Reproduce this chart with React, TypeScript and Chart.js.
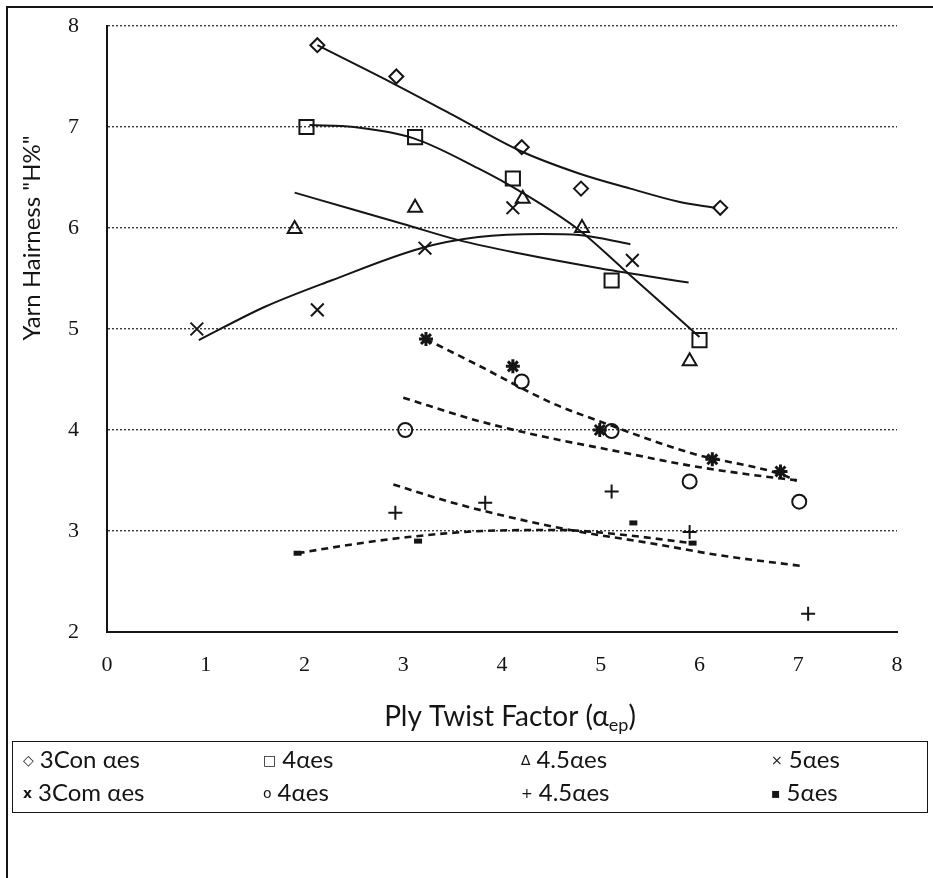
import React, { useEffect, useRef } from "react";
import { Chart, registerables } from "chart.js";

Chart.register(...registerables);

// ---------- axis ----------
const xMin = 0;
const xMax = 8;
const yMin = 2;
const yMax = 8;

// ---------- measured points ----------
const con3X = [2.13, 2.93, 4.2, 4.8, 6.21];
const con3Y = [7.81, 7.5, 6.8, 6.39, 6.2];
const sq4X = [2.02, 3.12, 4.11, 5.11, 6.0];
const sq4Y = [7.0, 6.9, 6.49, 5.48, 4.89];
const tri45X = [1.9, 3.12, 4.21, 4.81, 5.9];
const tri45Y = [5.99, 6.2, 6.29, 6.0, 4.68];
const x5X = [0.91, 2.13, 3.22, 4.11, 5.32];
const x5Y = [5.0, 5.19, 5.8, 6.2, 5.68];
const com3X = [3.23, 4.11, 4.99, 6.13, 6.82];
const com3Y = [4.9, 4.63, 4.0, 3.71, 3.59];
const circ4X = [3.02, 4.2, 5.11, 5.9, 7.01];
const circ4Y = [4.0, 4.48, 3.99, 3.49, 3.29];
const plus45X = [2.92, 3.83, 5.11, 5.9, 7.1];
const plus45Y = [3.18, 3.28, 3.39, 2.99, 2.18];
const dash5X = [1.93, 3.15, 5.33, 5.93];
const dash5Y = [2.78, 2.9, 3.08, 2.88];

// ---------- trend lines ----------
const con3TrendX = [2.13, 2.9, 3.5, 4.17, 4.78, 5.3, 5.79, 6.16];
const con3TrendY = [7.81, 7.43, 7.12, 6.77, 6.54, 6.39, 6.26, 6.2];
const sq4TrendX = [2.05, 2.5, 3.1, 3.76, 4.17, 4.78, 5.21, 6.0];
const sq4TrendY = [7.02, 7.0, 6.89, 6.59, 6.37, 5.98, 5.61, 4.92];
const tri45TrendX = [1.9, 2.5, 3.0, 3.56, 4.17, 5.0, 5.89];
const tri45TrendY = [6.35, 6.18, 6.04, 5.88, 5.75, 5.6, 5.46];
const x5TrendX = [0.93, 1.6, 2.27, 3.18, 3.76, 4.4, 4.78, 5.3];
const x5TrendY = [4.89, 5.22, 5.48, 5.8, 5.91, 5.94, 5.93, 5.84];
const com3TrendX = [3.23, 3.76, 4.5, 4.95, 5.92, 6.8, 6.98];
const com3TrendY = [4.9, 4.64, 4.27, 4.1, 3.77, 3.57, 3.5];
const circ4TrendX = [3.0, 3.76, 4.44, 5.11, 5.89, 6.5, 7.0];
const circ4TrendY = [4.32, 4.09, 3.93, 3.8, 3.65, 3.56, 3.5];
const plus45TrendX = [2.9, 3.5, 4.2, 4.8, 5.5, 6.2, 7.06];
const plus45TrendY = [3.46, 3.28, 3.11, 2.99, 2.88, 2.76, 2.65];
const dash5TrendX = [1.93, 2.5, 3.05, 3.8, 4.57, 5.15, 5.92];
const dash5TrendY = [2.78, 2.87, 2.94, 3.0, 3.01, 2.97, 2.88];

// ---------- legend ----------
const legendRow1 = ["3Con αes", "4αes", "4.5αes", "5αes"];
const legendRow2 = ["3Com αes", "4αes", "4.5αes", "5αes"];
const legendSym1 = ["◇", "□", "∆", "×"];
const legendSym2 = ["x", "o", "+", "▪"];

const pts = (xs: number[], ys: number[]) => xs.map((x, i) => ({ x, y: ys[i] }));

const INK = "#151515";

function markerSet(xs: number[], ys: number[], style: string, radius: number, bw: number) {
  return {
    data: pts(xs, ys),
    showLine: false,
    pointStyle: style,
    pointRadius: radius,
    pointBorderWidth: bw,
    pointBorderColor: INK,
    pointBackgroundColor: style === "line" ? INK : "rgba(0,0,0,0)",
    borderColor: INK,
    order: 0,
  };
}

function trendSet(xs: number[], ys: number[], dashed: boolean) {
  return {
    data: pts(xs, ys),
    showLine: true,
    pointRadius: 0,
    borderColor: INK,
    borderWidth: dashed ? 2.6 : 2,
    borderDash: dashed ? [7, 5] : [],
    tension: 0.4,
    cubicInterpolationMode: "monotone",
    fill: false,
    order: 1,
  };
}

const titlePlugin = {
  id: "axisTitles",
  afterDraw(chart: any) {
    const ctx = chart.ctx;
    ctx.save();
    ctx.fillStyle = INK;
    // y title
    ctx.translate(32, 238);
    ctx.rotate(-Math.PI / 2);
    ctx.font = "24px Lato";
    ctx.textAlign = "center";
    ctx.textBaseline = "middle";
    ctx.fillText('Yarn Hairness "H%"', 0, 0);
    ctx.restore();

    // x title with subscript
    ctx.save();
    ctx.fillStyle = INK;
    const main = "Ply Twist Factor (α";
    const sub = "ep";
    const close = ")";
    ctx.font = "28px Lato";
    const w1 = ctx.measureText(main).width;
    const w3 = ctx.measureText(close).width;
    ctx.font = "18px Lato";
    const w2 = ctx.measureText(sub).width;
    const total = w1 + w2 + w3;
    let x = 510 - total / 2;
    const y = 717;
    ctx.textBaseline = "middle";
    ctx.textAlign = "left";
    ctx.font = "28px Lato";
    ctx.fillText(main, x, y);
    x += w1;
    ctx.font = "18px Lato";
    ctx.fillText(sub, x, y + 8);
    x += w2;
    ctx.font = "28px Lato";
    ctx.fillText(close, x, y);
    ctx.restore();
  },
};

function ChartCanvas() {
  const ref = useRef<HTMLCanvasElement | null>(null);
  useEffect(() => {
    if (!ref.current) return;
    const chart = new Chart(ref.current, {
      type: "scatter",
      data: {
        datasets: [
          markerSet(con3X, con3Y, "rectRot", 7, 2),
          markerSet(sq4X, sq4Y, "rect", 10, 2),
          markerSet(tri45X, tri45Y, "triangle", 8, 2),
          markerSet(x5X, x5Y, "crossRot", 9, 2),
          markerSet(com3X, com3Y, "star", 7, 3),
          markerSet(circ4X, circ4Y, "circle", 7, 2),
          markerSet(plus45X, plus45Y, "cross", 7, 2),
          markerSet(dash5X, dash5Y, "line", 4, 5),
          trendSet(con3TrendX, con3TrendY, false),
          trendSet(sq4TrendX, sq4TrendY, false),
          trendSet(tri45TrendX, tri45TrendY, false),
          trendSet(x5TrendX, x5TrendY, false),
          trendSet(com3TrendX, com3TrendY, true),
          trendSet(circ4TrendX, circ4TrendY, true),
          trendSet(plus45TrendX, plus45TrendY, true),
          trendSet(dash5TrendX, dash5TrendY, true),
        ] as any,
      },
      options: {
        animation: false,
        responsive: false,
        maintainAspectRatio: false,
        layout: { padding: { left: 0, right: 36, top: 26, bottom: 0 } },
        plugins: { legend: { display: false }, tooltip: { enabled: false } },
        scales: {
          x: {
            type: "linear",
            min: xMin,
            max: xMax,
            afterFit: (s: any) => {
              s.height = 113;
              s.paddingLeft = 0;
              s.paddingRight = 0;
            },
            ticks: {
              stepSize: 1,
              padding: 20,
              color: INK,
              font: { family: "Liberation Serif", size: 22 },
            },
            grid: { display: false, drawTicks: false },
            border: { display: true, color: INK, width: 2 },
          },
          y: {
            type: "linear",
            min: yMin,
            max: yMax,
            afterFit: (s: any) => {
              s.width = 107;
              s.paddingTop = 0;
              s.paddingBottom = 0;
            },
            ticks: {
              stepSize: 1,
              padding: 28,
              color: INK,
              font: { family: "Liberation Serif", size: 22 },
            },
            grid: { display: true, drawTicks: false, color: "#3a3a3a", lineWidth: 1.4 },
            border: { display: true, color: INK, width: 2, dash: [2, 2] },
          },
        },
      } as any,
      plugins: [titlePlugin],
    });
    return () => chart.destroy();
  }, []);
  return (
    <canvas
      ref={ref}
      width={933}
      height={745}
      style={{ position: "absolute", left: 0, top: 0, width: 933, height: 745 }}
    />
  );
}

const colLeft = [10, 250, 508, 758];

export default function App() {
  return (
    <div
      style={{
        position: "fixed",
        left: 0,
        top: 0,
        width: 933,
        height: 878,
        background: "#fff",
        overflow: "hidden",
      }}
    >
      <ChartCanvas />
      <div
        style={{
          position: "absolute",
          left: 6,
          top: 6,
          width: 2,
          height: 872,
          background: INK,
          zIndex: 3,
        }}
      />
      <div
        style={{
          position: "absolute",
          left: 6,
          top: 6,
          width: 927,
          height: 2,
          background: INK,
          zIndex: 3,
        }}
      />
      <div
        style={{
          position: "absolute",
          left: 12,
          top: 741,
          width: 914,
          height: 70,
          border: `1.5px solid ${INK}`,
          fontFamily: "Lato, 'Noto Sans', sans-serif",
          fontSize: 24,
          color: INK,
        }}
      >
        {[legendRow1, legendRow2].map((row, r) =>
          row.map((label, c) => (
            <div
              key={`${r}-${c}`}
              style={{
                position: "absolute",
                left: colLeft[c],
                top: r === 0 ? 3 : 36,
                whiteSpace: "nowrap",
                lineHeight: "28px",
              }}
            >
              <span
                style={{
                  fontFamily: "'DejaVu Sans', sans-serif",
                  fontSize: 14,
                  fontWeight: r === 1 && c === 0 ? "bold" : "normal",
                  marginRight: 6,
                  verticalAlign: "3px",
                }}
              >
                {(r === 0 ? legendSym1 : legendSym2)[c]}
              </span>
              {label}
            </div>
          ))
        )}
      </div>
    </div>
  );
}
